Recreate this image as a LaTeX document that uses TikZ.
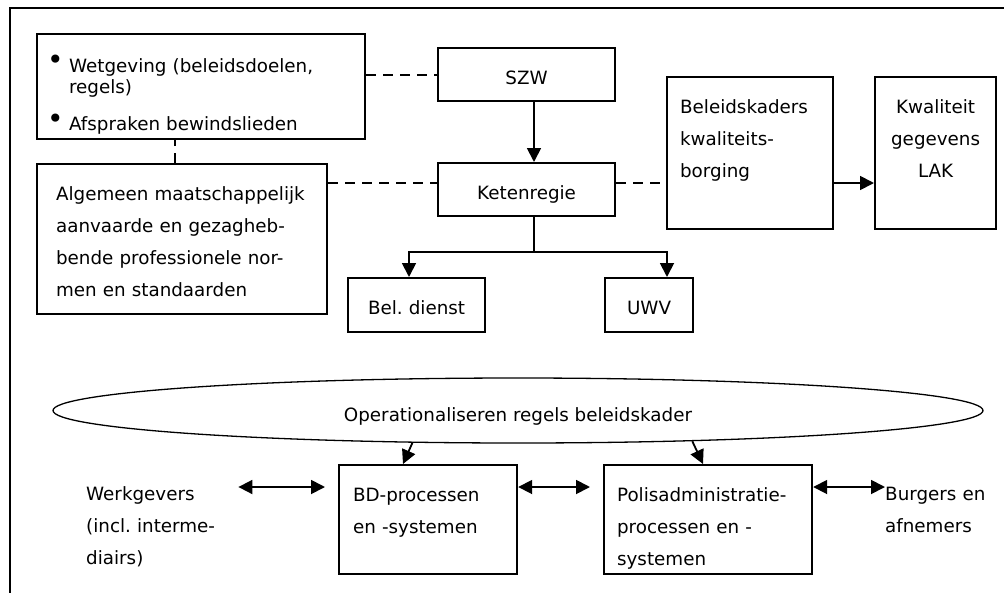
\documentclass[tikz,border=0pt]{standalone}
\usepackage{fontspec}
\setmainfont{DejaVu Sans}
\usetikzlibrary{arrows.meta,shapes.geometric}
\hyphenpenalty=10000
\exhyphenpenalty=10000
\frenchspacing

\newcommand{\opsom}{\makebox[18pt][l]{\hspace*{-4pt}\raisebox{2.5pt}{\fontsize{28pt}{28pt}\selectfont\textbullet}}}

\tikzset{
  blok/.style={draw, line width=2.2pt, anchor=north west, inner ysep=0pt,
    inner xsep=13pt, text height=36pt, align=left},
  midblok/.style={blok, inner xsep=6pt, align=center},
  los/.style={anchor=base west, inner sep=0pt, align=left},
  lijn/.style={line width=1.8pt},
  pijl/.style={lijn, -{Triangle[length=14pt,width=14pt]}},
  dubbel/.style={lijn, {Triangle[length=14pt,width=14pt]}-{Triangle[length=14pt,width=14pt]}},
  stippel/.style={line width=2pt, dash pattern=on 10pt off 7pt},
  kader/.style={line width=2pt}
}

\begin{document}
\begin{tikzpicture}[x=1pt, y=-1pt, font=\fontsize{18.3pt}{32pt}\selectfont]
  \useasboundingbox (0,0) rectangle (1004,592);
  \draw[kader] (9.5,8) rectangle (1030,620);

  % bovenste deel
  \node[blok, inner xsep=14pt, text width=300pt, text height=38pt, text depth=67pt,
        font=\fontsize{18.3pt}{21.7pt}\selectfont] (wet) at (36,33)
    {\begin{tabular}[t]{@{}l@{}l@{}}
       \opsom & Wetgeving (beleidsdoelen,\\
              & regels)\\[13.3pt]
       \opsom & Afspraken bewindslieden
     \end{tabular}};
  \node[midblok, inner xsep=13pt, text width=151pt, text depth=17pt] (szw) at (437,47) {SZW};
  \node[blok, inner xsep=19pt, text width=252pt, text depth=114pt] (alg) at (36,163)
    {Algemeen maatschappelijk\\aanvaarde en gezagheb-\\bende professionele nor-\\men en standaarden};
  \node[midblok, inner xsep=13pt, text width=151pt, text depth=17pt] (ket) at (437,162) {Ketenregie};
  \node[blok, text width=140pt, text depth=116pt] (bel) at (666,76) {Beleidskaders\\kwaliteits-\\borging};
  \node[midblok, text width=109pt, text depth=116pt] (kwal) at (874,76) {Kwaliteit\\gegevens\\LAK};
  \node[midblok, text width=125pt, text depth=18pt] (beldienst) at (347,277) {Bel. dienst};
  \node[midblok, text width=76pt, text depth=18pt] (uwv) at (604,277) {UWV};

  % onderste deel
  \node[draw, ellipse, line width=1.3pt, minimum width=930pt, minimum height=65pt, inner sep=0pt,
        text height=21pt, text depth=0pt] (ops) at (518,410.5) {Operationaliseren regels beleidskader};
  \node[blok, inner xsep=14pt, text width=150pt, text depth=73pt] (bd) at (338,464) {BD-processen\\en -systemen};
  \node[blok, text width=182pt, text depth=73pt] (polis) at (603,464) {Polisadministratie-\\processen en -\\systemen};
  \node[los, text width=152pt] (werk) at (86,500) {Werkgevers\\(incl. interme-\\diairs)};
  \node[los, text width=110pt] (burg) at (885,500) {Burgers en\\afnemers};

  % verbindingen
  \coordinate (midden) at (0,183);
  \coordinate (hoogte) at (0,487);
  \coordinate (alglijn) at ([xshift=139pt]alg.north west);
  \draw[stippel] (szw.west -| wet.east) -- (szw.west);
  \draw[stippel] (alglijn) -- (alglijn |- wet.south);
  \draw[stippel] (alg.east |- midden) -- (ket.west |- midden);
  \draw[stippel] (ket.east |- midden) -- (bel.west |- midden);
  \draw[pijl] (bel.east |- midden) -- (kwal.west |- midden);
  \draw[pijl] ([xshift=97pt]szw.south west) -- ([xshift=97pt]ket.north west);
  \draw[lijn] ([xshift=97pt]ket.south west) -- ++(0,35) coordinate (tak);
  \draw[pijl] (tak) -| ([xshift=62pt]beldienst.north west);
  \draw[pijl] (tak) -| ([xshift=63pt]uwv.north west);
  \draw[pijl] (ops.197) -- ([xshift=65pt]bd.north west);
  \draw[pijl] (ops.350) -- ([xshift=100pt]polis.north west);
  \draw[dubbel, shorten >=13pt] (werk.east |- hoogte) -- (bd.west |- hoogte);
  \draw[dubbel, shorten >=13pt] (bd.east |- hoogte) -- (polis.west |- hoogte);
  \draw[dubbel] (polis.east |- hoogte) -- (burg.west |- hoogte);
\end{tikzpicture}
\end{document}
